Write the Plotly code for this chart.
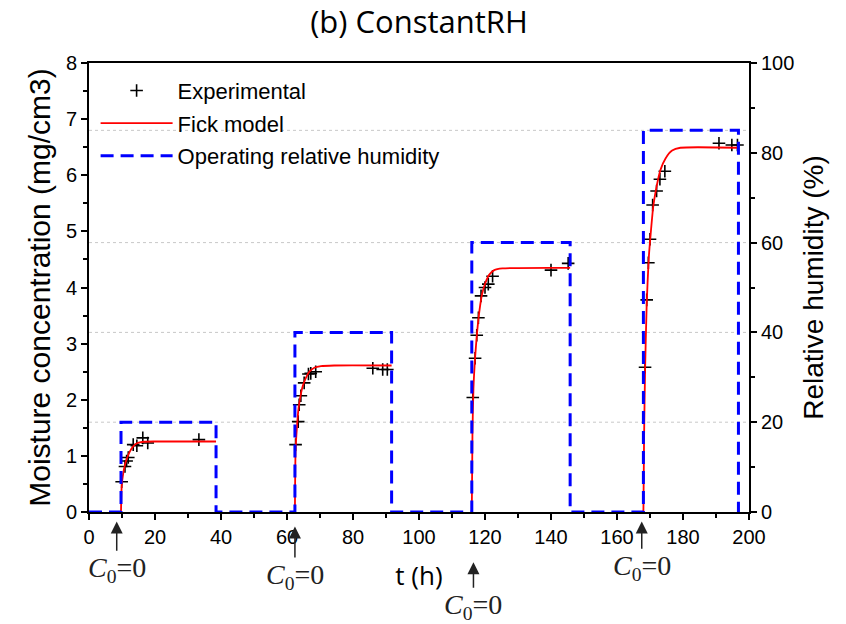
import plotly.graph_objects as go

# ---------------- data ----------------
exp_t = [9.9, 10.9, 11.4, 11.9, 13.4, 14.5, 16.3, 17.8, 33.3,
         62.6, 63.4, 63.7, 64.2, 65.2, 66.5, 67.2, 68.7, 86.0, 89.0, 90.4,
         116.3, 117.0, 117.5, 118.0, 118.8, 120.0, 121.0, 122.3, 140.0, 145.2,
         168.5, 169.0, 169.5, 170.0, 170.8, 172.0, 173.0, 174.5, 190.9, 194.8, 196.5]
exp_c = [0.54, 0.81, 0.91, 0.97, 1.20, 1.18, 1.32, 1.23, 1.29,
         1.20, 1.61, 1.91, 2.07, 2.30, 2.46, 2.47, 2.50, 2.56, 2.54, 2.54,
         2.04, 2.74, 3.15, 3.46, 3.85, 4.00, 4.06, 4.20, 4.31, 4.43,
         2.58, 3.78, 4.44, 4.86, 5.47, 5.72, 5.93, 6.07, 6.57, 6.54, 6.54]

fick_t1 = [9.7, 9.9, 10.4, 10.9, 11.4, 12.4, 13.4, 14.4, 15.4, 16.9, 19.5, 38.5]
fick_c1 = [0, 0.45, 0.70, 0.84, 0.94, 1.08, 1.17, 1.22, 1.24, 1.252, 1.256, 1.256]
fick_t2 = [62.4, 62.6, 63.0, 63.5, 64.1, 64.8, 65.8, 66.8, 68.3, 70.3, 74.3, 91.7]
fick_c2 = [0, 1.1, 1.5, 1.85, 2.07, 2.25, 2.40, 2.50, 2.57, 2.60, 2.61, 2.61]
fick_t3 = [116.0, 116.2, 116.5, 117.0, 117.6, 118.3, 119.1, 120.1, 121.3, 122.8, 125.3, 145.8]
fick_c3 = [0, 1.4, 2.2, 2.75, 3.2, 3.58, 3.88, 4.08, 4.23, 4.31, 4.34, 4.35]
fick_t4 = [168.0, 168.2, 168.5, 169.0, 169.6, 170.2, 171.0, 172.0, 173.2, 174.7, 176.7, 179.2, 196.8]
fick_c4 = [0, 1.3, 2.5, 3.7, 4.5, 4.95, 5.45, 5.8, 6.1, 6.3, 6.44, 6.49, 6.49]

rh_start = [9.7, 62.4, 116.0, 168.0]
rh_end = [38.5, 91.7, 145.8, 196.8]
rh_level = [20, 40, 60, 85]

c0_arrow_t = [8.4, 62.4, 116.5, 167.5]

x_ticks = [0, 20, 40, 60, 80, 100, 120, 140, 160, 180, 200]
y_ticks = [0, 1, 2, 3, 4, 5, 6, 7, 8]
y2_ticks = [0, 20, 40, 60, 80, 100]

# ---------------- build series ----------------
fick_t, fick_c = [], []
for ts, cs in [(fick_t1, fick_c1), (fick_t2, fick_c2), (fick_t3, fick_c3), (fick_t4, fick_c4)]:
    fick_t += ts + [None]
    fick_c += cs + [None]

rh_t, rh_v = [0], [0]
for s, e, lv in zip(rh_start, rh_end, rh_level):
    rh_t += [s, s, e, e]
    rh_v += [0, lv, lv, 0]

ARIAL = "Liberation Sans, Arial, sans-serif"

fig = go.Figure()
fig.add_trace(go.Scatter(
    x=exp_t, y=exp_c, mode="markers", name="Experimental",
    marker=dict(symbol="cross-thin", size=9, line=dict(color="black", width=1.6)),
    legendgroup="a"))
fig.add_trace(go.Scatter(
    x=fick_t, y=fick_c, mode="lines", name="Fick model",
    line=dict(color="#ff0000", width=1.8, shape="spline", smoothing=0.6),
    connectgaps=False, legendgroup="b"))
fig.add_trace(go.Scatter(
    x=rh_t, y=rh_v, mode="lines", name="Operating relative humidity", yaxis="y2",
    line=dict(color="#0000ff", width=3, dash="13px,7px"), legendgroup="c"))

shapes = []
for lv in rh_level:
    shapes.append(dict(type="line", xref="paper", x0=0, x1=1, yref="y2", y0=lv, y1=lv,
                       line=dict(color="#c8c8c8", width=1, dash="3px,3px"), layer="below"))

annotations = []
tip_px = [521.7, 526.7, 562.7, 521.7]
lab_px = [570, 576.7, 607, 568]
plot_top, plot_bot = 62.7, 512.3
for t, tp, lp in zip(c0_arrow_t, tip_px, lab_px):
    annotations.append(dict(
        x=t, xref="x", y=(plot_bot - tp) / (plot_bot - plot_top), yref="paper",
        text="<i>C</i><sub>0</sub>=0", showarrow=True, ax=0, ay=lp - tp,
        arrowhead=2, arrowsize=1.6, arrowwidth=1.5, arrowcolor="#222222",
        font=dict(family="Liberation Serif, serif", size=28, color="#222222")))

axis_common = dict(ticks="outside", ticklen=6, tickwidth=1.5, tickcolor="black",
                   showline=True, linecolor="black", linewidth=2, showgrid=False,
                   zeroline=False, tickfont=dict(family=ARIAL, size=20, color="black"))

fig.update_layout(
    width=846, height=624,
    margin=dict(l=89, r=97, t=63, b=112),
    paper_bgcolor="white", plot_bgcolor="white",
    title=dict(text="(b) ConstantRH", x=0.5, xref="paper", xanchor="center",
               y=1 - 22 / 624, yref="container", yanchor="middle",
               font=dict(family="Open Sans, sans-serif", size=31, color="black")),
    xaxis=dict(range=[0, 200], tickvals=x_ticks, mirror=True,
               minor=dict(ticks="outside", ticklen=4, dtick=10, tickcolor="black"),
               title=dict(text="t (h)", standoff=20,
                          font=dict(family="Open Sans, sans-serif", size=26, color="black")),
               **axis_common),
    yaxis=dict(range=[0, 8], tickvals=y_ticks,
               minor=dict(ticks="outside", ticklen=4, dtick=0.5, tickcolor="black"),
               title=dict(text="Moisture concentration (mg/cm3)", standoff=6,
                          font=dict(family=ARIAL, size=30, color="black")),
               **axis_common),
    yaxis2=dict(range=[0, 100], tickvals=y2_ticks, overlaying="y", side="right",
                minor=dict(ticks="outside", ticklen=4, dtick=10, tickcolor="black"),
                title=dict(text="Relative humidity (%)", standoff=10,
                           font=dict(family=ARIAL, size=28, color="black")),
                **axis_common),
    legend=dict(x=0.01, y=0.985, xanchor="left", yanchor="top", bgcolor="rgba(0,0,0,0)",
                font=dict(family=ARIAL, size=22, color="black"), tracegroupgap=1,
                itemwidth=72),
    showlegend=True,
    shapes=shapes,
    annotations=annotations,
)

fig.write_html("out.html")
